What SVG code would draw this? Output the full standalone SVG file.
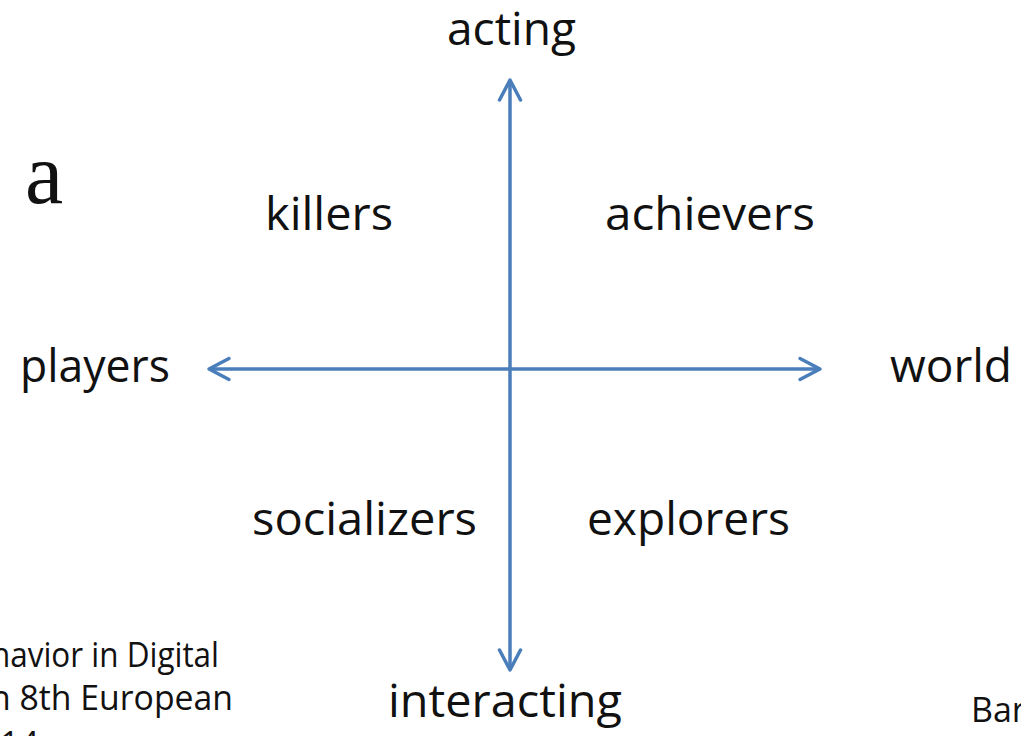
<svg xmlns="http://www.w3.org/2000/svg" width="1021" height="736" viewBox="0 0 1021 736">
  <style>
    .lbl { font-family: "Open Sans", "Noto Sans", "Liberation Sans", sans-serif; font-size: 46px; fill: #111; }
    .ref { font-family: "Open Sans", "Noto Sans", "Liberation Sans", sans-serif; font-size: 34px; fill: #111; }
    .axis { stroke: #4a7ebb; stroke-width: 3.5; fill: none; }
  </style>
  <defs>
    <marker id="arr" viewBox="0 0 26 26" markerUnits="userSpaceOnUse" markerWidth="26" markerHeight="26" refX="23" refY="13" orient="auto-start-reverse">
      <path d="M3,2.5 L23,13 L3,23.5" fill="none" stroke="#4a7ebb" stroke-width="3.5" stroke-linecap="round" stroke-linejoin="round"/>
    </marker>
  </defs>
  <rect width="1021" height="736" fill="#ffffff"/>

  <g id="connectors">
    <line class="axis" x1="510" y1="80" x2="510" y2="670" marker-start="url(#arr)" marker-end="url(#arr)"/>
    <line class="axis" x1="209" y1="369" x2="820" y2="369" marker-start="url(#arr)" marker-end="url(#arr)"/>
  </g>

  <g id="node-acting"><text class="lbl" x="447" y="45" textLength="129" lengthAdjust="spacingAndGlyphs">acting</text></g>
  <g id="node-interacting"><text class="lbl" x="388" y="717" textLength="234" lengthAdjust="spacingAndGlyphs">interacting</text></g>
  <g id="node-players"><text class="lbl" x="20" y="382" textLength="150" lengthAdjust="spacingAndGlyphs">players</text></g>
  <g id="node-world"><text class="lbl" x="890" y="382" textLength="122" lengthAdjust="spacingAndGlyphs">world</text></g>
  <g id="node-killers"><text class="lbl" x="265" y="230" textLength="128" lengthAdjust="spacingAndGlyphs">killers</text></g>
  <g id="node-achievers"><text class="lbl" x="605" y="230" textLength="210" lengthAdjust="spacingAndGlyphs">achievers</text></g>
  <g id="node-socializers"><text class="lbl" x="252" y="535" textLength="225" lengthAdjust="spacingAndGlyphs">socializers</text></g>
  <g id="node-explorers"><text class="lbl" x="587" y="535" textLength="203" lengthAdjust="spacingAndGlyphs">explorers</text></g>

  <g id="fragments">
    <text x="25" y="203" font-family="'Liberation Serif', serif" font-size="86" fill="#111">a</text>
    <text class="ref" x="-9" y="667" textLength="228" lengthAdjust="spacingAndGlyphs">havior in Digital</text>
    <text class="ref" x="-10" y="710" textLength="243" lengthAdjust="spacingAndGlyphs">n  8th European</text>
    <text class="ref" x="0" y="756">14</text>
    <text class="ref" x="971" y="722" font-size="28">Bar</text>
  </g>
</svg>
